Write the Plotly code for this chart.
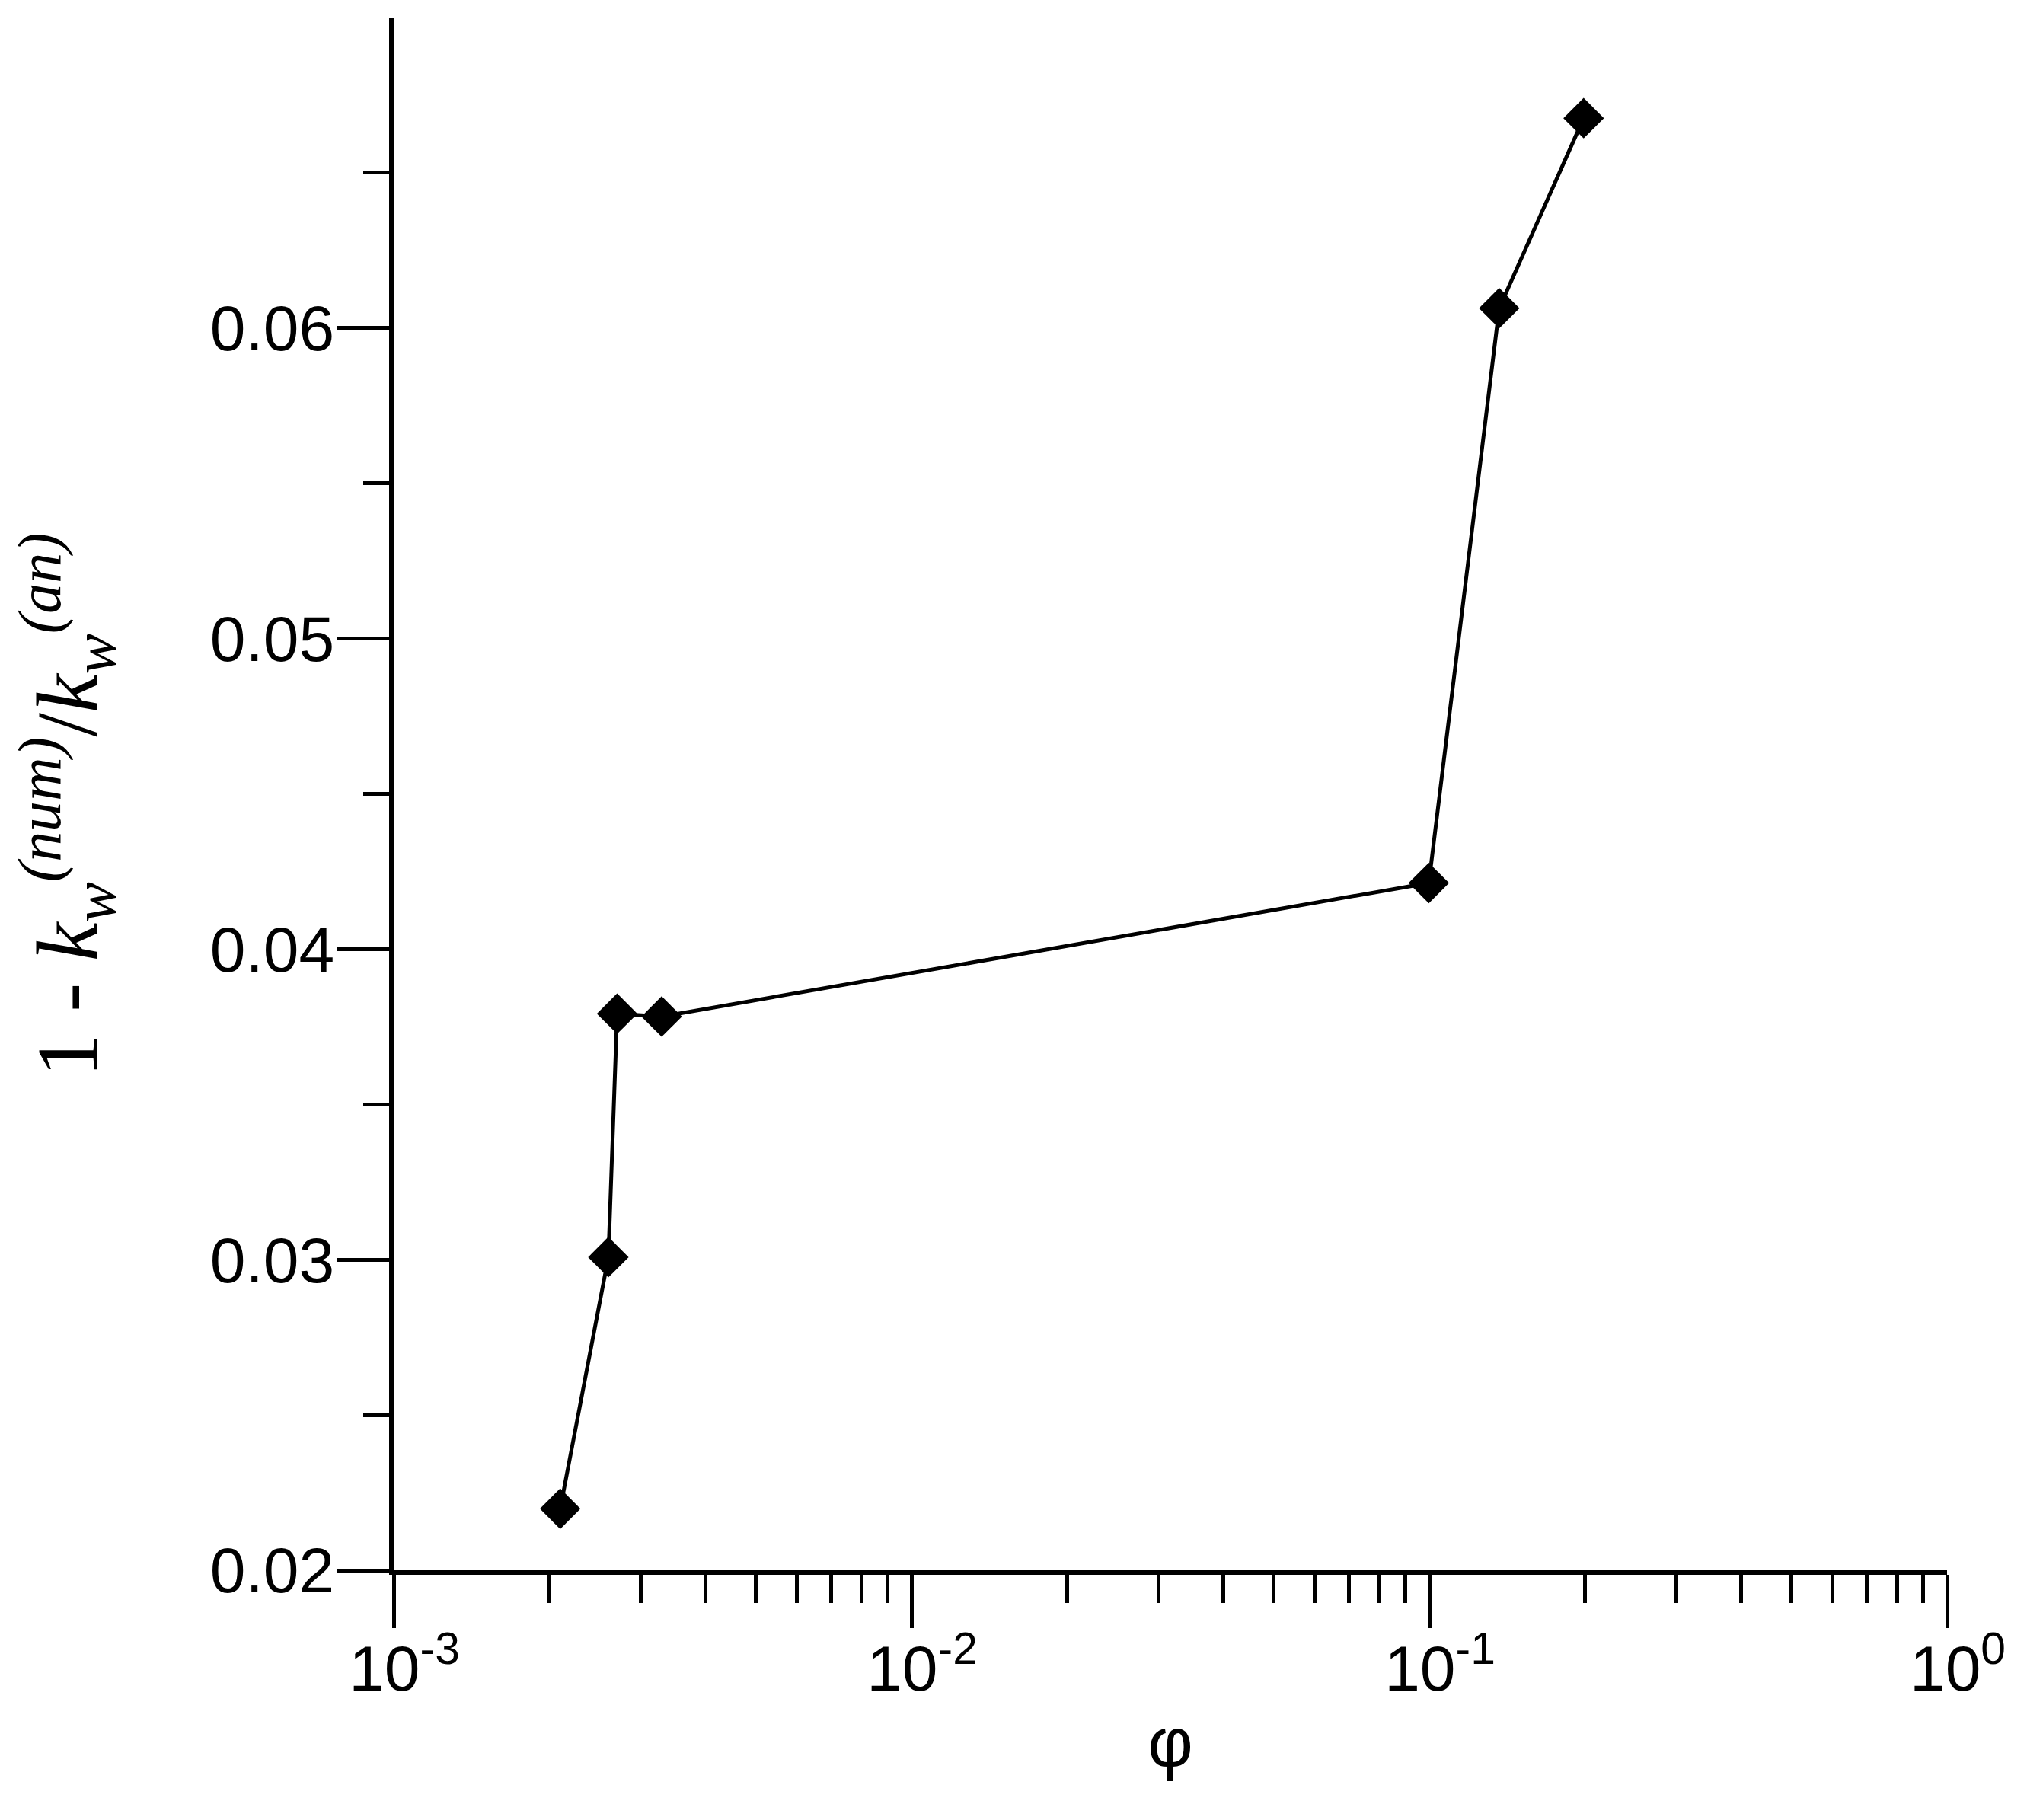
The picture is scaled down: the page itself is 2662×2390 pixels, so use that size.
import plotly.graph_objects as go

# Data
phi = [0.002097, 0.002598, 0.002701, 0.003293, 0.0998, 0.1365, 0.1987]
err = [0.02198, 0.03008, 0.03792, 0.03783, 0.04213, 0.06064, 0.06676]

x_tickvals = [0.001, 0.01, 0.1, 1]
x_ticktext = ["10<sup>-3</sup>", "10<sup>-2</sup>", "10<sup>-1</sup>", "10<sup>0</sup>"]
x_minor = [m * d for d in [0.001, 0.01, 0.1] for m in range(2, 10)]

y_tickvals = [0.02, 0.03, 0.04, 0.05, 0.06]
y_ticktext = ["0.02", "0.03", "0.04", "0.05", "0.06"]
y_minor = [0.025, 0.035, 0.045, 0.055, 0.065]

fig = go.Figure()
fig.add_trace(go.Scatter(
    x=phi, y=err, mode="lines+markers",
    line=dict(color="black", width=5),
    marker=dict(symbol="diamond", size=41, color="black", line=dict(width=0)),
    showlegend=False,
))

fig.update_layout(
    width=2662, height=2390,
    margin=dict(l=509, r=113, t=15, b=336),
    paper_bgcolor="white", plot_bgcolor="white",
    font=dict(family="Liberation Sans", color="black"),
)

fig.update_xaxes(
    type="log", range=[-3, 0],
    showline=True, linecolor="black", linewidth=6,
    showgrid=False, zeroline=False,
    tickmode="array", tickvals=x_tickvals, ticktext=x_ticktext,
    ticks="outside", ticklen=70, tickwidth=5, tickcolor="black",
    ticklabelstandoff=-19, ticklabelshift=14,
    tickfont=dict(family="Liberation Sans", size=84, color="black"),
    minor=dict(tickmode="array", tickvals=x_minor, ticks="outside",
               ticklen=37, tickwidth=5, tickcolor="black", showgrid=False),
    title=dict(text="φ", font=dict(family="Liberation Sans", size=92, color="black"),
               standoff=21),
)

fig.update_yaxes(
    range=[0.02, 0.07],
    showline=True, linecolor="black", linewidth=6,
    showgrid=False, zeroline=False,
    tickmode="array", tickvals=y_tickvals, ticktext=y_ticktext,
    ticks="outside", ticklen=69, tickwidth=5, tickcolor="black",
    ticklabelstandoff=-14,
    tickfont=dict(family="Liberation Sans", size=84, color="black"),
    minor=dict(tickmode="array", tickvals=y_minor, ticks="outside",
               ticklen=34, tickwidth=5, tickcolor="black", showgrid=False),
    title=dict(
        text="1 - <i>k</i><sub><i>w</i></sub><sup><i>(num)</i></sup>/<i>k</i><sub><i>w</i></sub><sup><i>(an)</i></sup>&nbsp;",
        font=dict(family="Liberation Serif", size=114, color="black"),
        standoff=142,
    ),
)

fig.write_html("out.html")
